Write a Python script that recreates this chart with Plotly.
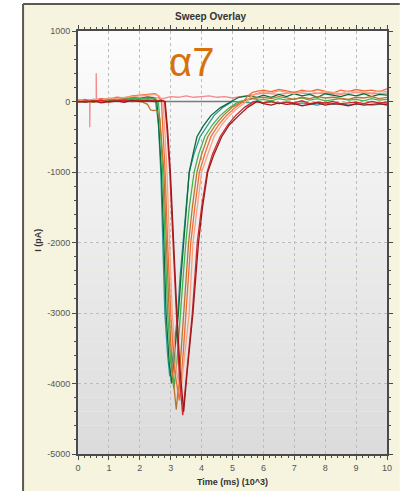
import plotly.graph_objects as go

# ---------------- data ----------------
T_PRE = [0, 0.25, 0.5, 0.75, 1.0, 1.25, 1.5, 1.75, 2.0, 2.25]
T_POST = [6.0, 6.25, 6.5, 6.75, 7.0, 7.25, 7.5, 7.75, 8.0, 8.25, 8.5, 8.75, 9.0, 9.25, 9.5, 9.75, 10.0]

sweep_names = ["teal", "darkgreen", "green", "brown", "orange", "salmon", "red", "darkred"]
sweep_colors = ["#2a9a98", "#0d6b3b", "#3fb54c", "#b8762c", "#f26b3a", "#f7a27e", "#d2262e", "#9c1a1c"]

pre_vals = {
    "teal":      [10, -10, 20, 0, 30, 10, 40, 20, 30, 40],
    "darkgreen": [0, 20, -10, 30, 10, 40, 30, 50, 40, 60],
    "green":     [20, 0, 30, 10, 20, 40, 30, 50, 40, 50],
    "brown":     [0, 10, -10, 20, 0, 10, 30, 20, 10, -40],
    "orange":    [0, 20, 10, 40, 30, 60, 50, 80, 90, 100],
    "salmon":    [10, 0, 30, 20, 50, 40, 60, 70, 80, 90],
    "red":       [-10, 10, 0, 20, -10, 10, 20, 0, 10, 20],
    "darkred":   [0, -10, 10, -20, 0, 10, -10, 20, 0, 10],
}

dip_t = {
    "teal":      [2.5, 2.6, 2.68, 2.75, 2.81, 2.9, 2.97, 3.05, 3.15, 3.23, 3.3, 3.39, 3.5, 3.6, 3.75, 3.95, 4.2, 4.4, 4.7, 5.0, 5.3, 5.6, 5.8],
    "darkgreen": [2.45, 2.55, 2.62, 2.7, 2.78, 2.85, 2.95, 3.03, 3.12, 3.25, 3.33, 3.42, 3.5, 3.6, 3.72, 3.85, 4.05, 4.3, 4.6, 4.95, 5.2, 5.5, 5.8],
    "green":     [2.5, 2.6, 2.67, 2.74, 2.82, 2.9, 3.0, 3.1, 3.2, 3.33, 3.4, 3.49, 3.6, 3.76, 3.9, 4.1, 4.35, 4.6, 4.9, 5.2, 5.45, 5.7, 5.85],
    "brown":     [2.35, 2.45, 2.55, 2.65, 2.72, 2.78, 2.86, 2.95, 3.05, 3.18, 3.28, 3.42, 3.5, 3.58, 3.7, 3.85, 4.0, 4.2, 4.45, 4.7, 5.0, 5.3, 5.55, 5.8],
    "orange":    [2.5, 2.6, 2.7, 2.76, 2.82, 2.9, 3.0, 3.12, 3.28, 3.4, 3.5, 3.65, 3.78, 3.93, 4.1, 4.3, 4.55, 4.8, 5.1, 5.35, 5.5, 5.65, 5.85],
    "salmon":    [2.5, 2.62, 2.75, 2.82, 2.88, 2.96, 3.05, 3.18, 3.32, 3.45, 3.6, 3.72, 3.85, 4.0, 4.2, 4.4, 4.65, 4.9, 5.2, 5.45, 5.6, 5.75, 5.9],
    "red":       [2.5, 2.7, 2.8, 2.88, 2.97, 3.07, 3.17, 3.28, 3.39, 3.5, 3.6, 3.7, 3.86, 4.0, 4.18, 4.35, 4.6, 4.85, 5.1, 5.4, 5.7, 5.85],
    "darkred":   [2.5, 2.72, 2.82, 2.9, 2.99, 3.09, 3.2, 3.3, 3.42, 3.53, 3.63, 3.72, 3.9, 4.03, 4.2, 4.4, 4.65, 4.9, 5.2, 5.5, 5.8, 5.9],
}

dip_i = {
    "teal":      [30, -300, -1000, -2000, -3000, -3600, -3900, -3700, -3300, -3000, -2500, -2000, -1500, -1000, -750, -500, -330, -200, -80, 0, -10, -20, 10],
    "darkgreen": [50, 0, -400, -1000, -2000, -3000, -3700, -4000, -3600, -3000, -2500, -2000, -1500, -1000, -750, -500, -350, -200, -90, 0, 60, 80, 60],
    "green":     [40, 0, -400, -1000, -2000, -3000, -3700, -4070, -3700, -3000, -2500, -2000, -1500, -1000, -750, -500, -330, -200, -90, 0, 20, 40, 20],
    "brown":     [-120, -130, -120, -250, -600, -1000, -2000, -3000, -3800, -4370, -3900, -3000, -2500, -2000, -1500, -1000, -750, -500, -330, -200, -80, 0, 40, 50],
    "orange":    [110, 80, 0, -500, -1000, -2000, -3000, -3800, -4240, -3600, -3000, -2000, -1500, -1000, -750, -500, -330, -200, -80, 0, 80, 130, 150],
    "salmon":    [100, 80, 0, -500, -1000, -2000, -3000, -3800, -4150, -3600, -3000, -2000, -1500, -1000, -750, -500, -330, -200, -80, 0, 70, 110, 130],
    "red":       [10, 20, 0, -400, -1000, -2000, -3000, -3900, -4450, -3900, -3400, -3000, -2000, -1500, -1000, -750, -500, -330, -200, -80, 0, -10],
    "darkred":   [0, 10, 0, -400, -1000, -2000, -3000, -3800, -4400, -3850, -3400, -3000, -2000, -1500, -1000, -750, -500, -330, -200, -80, 0, -20],
}

post_vals = {
    "teal":      [-20, 0, -30, -10, -40, -20, -30, -50, -20, -40, -30, -50, -40, -30, -50, -40, -30],
    "darkgreen": [90, 60, 100, 70, 110, 80, 100, 60, 110, 90, 70, 100, 80, 110, 70, 100, 90],
    "green":     [30, 10, 40, 20, 30, 50, 20, 40, 10, 30, 40, 20, 30, 10, 40, 20, 30],
    "brown":     [60, 40, 70, 50, 30, 60, 40, 70, 50, 60, 40, 30, 60, 50, 70, 40, 60],
    "orange":    [160, 140, 170, 150, 130, 160, 140, 170, 150, 120, 160, 140, 170, 150, 160, 140, 180],
    "salmon":    [140, 120, 150, 130, 110, 140, 150, 120, 140, 130, 110, 150, 130, 140, 120, 150, 140],
    "red":       [-20, 0, -30, -10, -20, 10, -30, -10, -20, 0, -30, -20, -10, -30, 0, -20, -10],
    "darkred":   [-30, -50, -20, -40, -30, -60, -40, -20, -50, -30, -40, -60, -30, -50, -40, -30, -50],
}

pink_t = [0, 0.2, 0.38, 0.38, 0.39, 0.5, 0.59, 0.59, 0.6, 0.75, 1.0, 1.25, 1.5, 1.75, 2.0, 2.25, 2.5, 2.75,
          3.0, 3.25, 3.5, 3.75, 4.0, 4.25, 4.5, 4.75, 5.0, 5.25, 5.5, 5.75, 6.0, 6.5, 7.0, 7.5, 8.0, 8.5, 9.0, 9.5, 10.0]
pink_i = [20, 30, 20, -365, 20, 30, 30, 400, 30, 40, 30, 50, 40, 60, 50, 70, 60, 40,
          70, 60, 80, 60, 70, 80, 60, 70, 50, 70, 90, 110, 120, 100, 130, 110, 120, 100, 130, 110, 120]
pink_color = "#f08a8e"

zero_t = [0, 5.0]
zero_i = [0, 0]

x_ticks = [0, 1, 2, 3, 4, 5, 6, 7, 8, 9, 10]
y_ticks = [1000, 0, -1000, -2000, -3000, -4000, -5000]

title_text = "Sweep Overlay"
x_title = "Time (ms) (10^3)"
y_title = "I (pA)"
label_text = "α7"

# ---------------- figure ----------------
W, H = 404, 491
L, R, T, B = 78, 11, 31, 37
pw, ph = W - L - R, H - T - B

def px(xp):
    return (xp - L) / pw

def py(yp):
    return (H - B - yp) / ph

fig = go.Figure()

fig.add_trace(go.Scatter(x=zero_t, y=zero_i, mode="lines",
                         line=dict(color="#7a7a7a", width=1.5), showlegend=False))
fig.add_trace(go.Scatter(x=pink_t, y=pink_i, mode="lines",
                         line=dict(color=pink_color, width=1.3), showlegend=False))

for name, col in zip(sweep_names, sweep_colors):
    xs = T_PRE + dip_t[name] + T_POST
    ys = pre_vals[name] + dip_i[name] + post_vals[name]
    fig.add_trace(go.Scatter(x=xs, y=ys, mode="lines", name=name,
                             line=dict(color=col, width=1.3), showlegend=False))

shapes = []
# beige frame
shapes.append(dict(type="rect", xref="paper", yref="paper",
                   x0=px(22), x1=px(W + 2), y0=py(H + 2), y1=py(4),
                   fillcolor="#f6f4de", line=dict(width=0), layer="below"))
shapes.append(dict(type="line", xref="paper", yref="paper",
                   x0=px(22), x1=px(22), y0=py(H + 2), y1=py(4),
                   line=dict(color="#5a5a52", width=2), layer="below"))
shapes.append(dict(type="line", xref="paper", yref="paper",
                   x0=px(22), x1=px(W + 2), y0=py(4), y1=py(4),
                   line=dict(color="#5a5a52", width=2), layer="below"))
# gradient plot background
n = 30
for k in range(n):
    f = k / (n - 1)
    c = int(round(252 - f * (252 - 220)))
    shapes.append(dict(type="rect", xref="paper", yref="paper",
                       x0=0, x1=1, y0=1 - (k + 1) / n, y1=1 - k / n,
                       fillcolor=f"rgb({c},{c},{c})", line=dict(width=0), layer="below"))

annotations = [
    dict(text=f"<b>{title_text}</b>", xref="paper", yref="paper", x=px(214), y=py(17),
         showarrow=False, font=dict(family="Liberation Sans", size=10, color="#333333"),
         xanchor="center", yanchor="middle"),
    dict(text=f"<b>{x_title}</b>", xref="paper", yref="paper", x=px(236), y=py(482),
         showarrow=False, font=dict(family="Liberation Sans", size=9, color="#333333"),
         xanchor="center", yanchor="middle"),
    dict(text=f"<b>{y_title}</b>", xref="paper", yref="paper", x=px(37), y=py(240),
         showarrow=False, textangle=-90, font=dict(family="Liberation Sans", size=9, color="#333333"),
         xanchor="center", yanchor="middle"),
    dict(text=label_text, xref="x", yref="y", x=3.68, y=560,
         showarrow=False, font=dict(family="Liberation Sans", size=40, color="#d6720c"),
         xanchor="center", yanchor="middle"),
]

axis_common = dict(
    showline=True, linecolor="#4a4a4a", linewidth=1.8, mirror="ticks",
    ticks="outside", ticklen=4, tickcolor="#4a4a4a", tickwidth=1,
    showgrid=True, gridcolor="#bdbdbd", griddash="dot", gridwidth=1,
    zeroline=False,
    tickfont=dict(family="Liberation Sans", size=9, color="#555555"),
)

fig.update_xaxes(range=[0, 10], tickvals=x_ticks, ticktext=[str(v) for v in x_ticks],
                 minor=dict(ticks="outside", ticklen=2, dtick=0.2, tickcolor="#4a4a4a", showgrid=False),
                 **axis_common)
fig.update_yaxes(range=[-5000, 1000], tickvals=y_ticks, ticktext=[str(v) for v in y_ticks],
                 minor=dict(ticks="outside", ticklen=2, dtick=200, tickcolor="#4a4a4a", showgrid=False),
                 **axis_common)

fig.update_layout(
    width=W, height=H, autosize=False,
    margin=dict(l=L, r=R, t=T, b=B, pad=0),
    paper_bgcolor="white", plot_bgcolor="#eeeeee",
    shapes=shapes, annotations=annotations, showlegend=False,
)

fig.write_html("out.html")
